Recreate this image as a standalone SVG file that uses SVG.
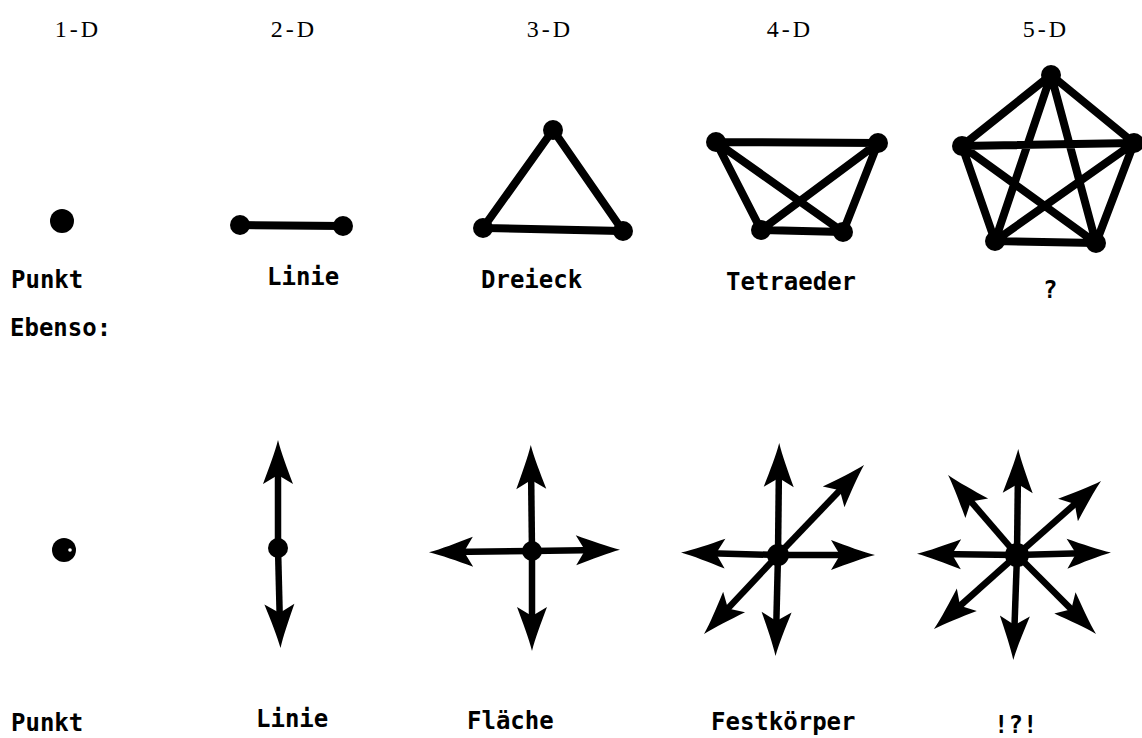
<svg xmlns="http://www.w3.org/2000/svg" width="1142" height="738" viewBox="0 0 1142 738">
<style>
.hdr{font-family:"Liberation Serif",serif;font-size:24px;fill:#000;text-anchor:middle;letter-spacing:3px}
.lbl{font-family:"DejaVu Sans Mono","Liberation Mono",monospace;font-size:24px;font-weight:bold;fill:#000}
.edge{stroke:#000;stroke-width:8;stroke-linecap:round;fill:none}
.arr{stroke:#000;stroke-width:6.5;stroke-linecap:butt;fill:none;marker-end:url(#ah)}
.v{fill:#000}
</style>
<defs>
<marker id="ah" markerUnits="userSpaceOnUse" viewBox="-28 -18 50 36" markerWidth="50" markerHeight="36" refX="0" refY="0" orient="auto">
<path d="M20,0 C8,-3 -8,-9 -24,-15 L-15,0 L-24,15 C-8,9 8,3 20,0 Z" fill="#000"/>
</marker>
</defs>
<rect width="1142" height="738" fill="#fff"/>

<g id="headers">
<text class="hdr" x="78" y="37">1-D</text>
<text class="hdr" x="294" y="37">2-D</text>
<text class="hdr" x="550" y="37">3-D</text>
<text class="hdr" x="790" y="37">4-D</text>
<text class="hdr" x="1046" y="37">5-D</text>
</g>

<g id="connectors">
<line class="edge" x1="240" y1="225" x2="343" y2="226"/>
<path class="edge" d="M553,130 L483,228 L623,231 Z"/>
<path class="edge" d="M716,142 L878,143 M716,142 L761,230 M716,142 L843,232 M878,143 L761,230 M878,143 L843,232 M761,230 L843,232"/>
<path class="edge" d="M1051,75 L962,146 M1051,75 L1134,143 M1051,75 L995,241 M1051,75 L1096,243 M962,146 L1134,143 M962,146 L995,241 M962,146 L1096,243 M1134,143 L995,241 M1134,143 L1096,243 M995,241 L1096,243"/>
</g>

<g id="punkt1">
<circle class="v" cx="62" cy="221" r="12"/>
<text class="lbl" x="11" y="288">Punkt</text>
</g>
<g id="linie1">
<circle class="v" cx="240" cy="225" r="10"/>
<circle class="v" cx="343" cy="226" r="10"/>
<text class="lbl" x="267" y="285">Linie</text>
</g>
<g id="dreieck">
<circle class="v" cx="553" cy="130" r="10"/>
<circle class="v" cx="483" cy="228" r="10"/>
<circle class="v" cx="623" cy="231" r="10"/>
<text class="lbl" x="481" y="288">Dreieck</text>
</g>
<g id="tetraeder">
<circle class="v" cx="716" cy="142" r="10"/>
<circle class="v" cx="878" cy="143" r="10"/>
<circle class="v" cx="761" cy="230" r="10"/>
<circle class="v" cx="843" cy="232" r="10"/>
<text class="lbl" x="726" y="290">Tetraeder</text>
</g>
<g id="pentatop">
<circle class="v" cx="1051" cy="75" r="10"/>
<circle class="v" cx="962" cy="146" r="10"/>
<circle class="v" cx="1134" cy="143" r="10"/>
<circle class="v" cx="995" cy="241" r="10"/>
<circle class="v" cx="1096" cy="243" r="10"/>
<text class="lbl" x="1043" y="298">?</text>
</g>

<g id="ebenso">
<text class="lbl" x="10" y="336">Ebenso:</text>
</g>

<g id="punkt2">
<circle class="v" cx="64" cy="550" r="12"/>
<circle cx="70" cy="550" r="1.8" fill="#fff"/>
<text class="lbl" x="11" y="731">Punkt</text>
</g>
<g id="linie2">
<line class="arr" x1="278" y1="548" x2="278" y2="460"/>
<line class="arr" x1="278" y1="548" x2="280" y2="628"/>
<circle class="v" cx="278" cy="548" r="10"/>
<text class="lbl" x="256" y="727">Linie</text>
</g>
<g id="flaeche">
<line class="arr" x1="532" y1="551" x2="531" y2="465"/>
<line class="arr" x1="532" y1="551" x2="532" y2="631"/>
<line class="arr" x1="532" y1="551" x2="449" y2="552"/>
<line class="arr" x1="532" y1="551" x2="600" y2="550"/>
<circle class="v" cx="532" cy="551" r="10"/>
<text class="lbl" x="467" y="729">Fläche</text>
</g>
<g id="festkoerper">
<line class="arr" x1="778" y1="555" x2="779" y2="463"/>
<line class="arr" x1="778" y1="555" x2="776" y2="636"/>
<line class="arr" x1="778" y1="555" x2="701" y2="553"/>
<line class="arr" x1="778" y1="555" x2="855" y2="555"/>
<line class="arr" x1="778" y1="555" x2="850.2" y2="479.5"/>
<line class="arr" x1="778" y1="555" x2="717.7" y2="619.4"/>
<circle class="v" cx="778" cy="555" r="11"/>
<text class="lbl" x="711" y="730">Festkörper</text>
</g>
<g id="achtfach">
<line class="arr" x1="1017" y1="555" x2="1018" y2="469"/>
<line class="arr" x1="1017" y1="555" x2="1014" y2="640"/>
<line class="arr" x1="1017" y1="555" x2="937" y2="554"/>
<line class="arr" x1="1017" y1="555" x2="1091" y2="553"/>
<line class="arr" x1="1017" y1="555" x2="961.1" y2="490.1"/>
<line class="arr" x1="1017" y1="555" x2="1086" y2="494.2"/>
<line class="arr" x1="1017" y1="555" x2="948.9" y2="615.7"/>
<line class="arr" x1="1017" y1="555" x2="1081.9" y2="619.9"/>
<circle class="v" cx="1017" cy="555" r="12"/>
<text class="lbl" x="994" y="733">!?!</text>
</g>
</svg>
